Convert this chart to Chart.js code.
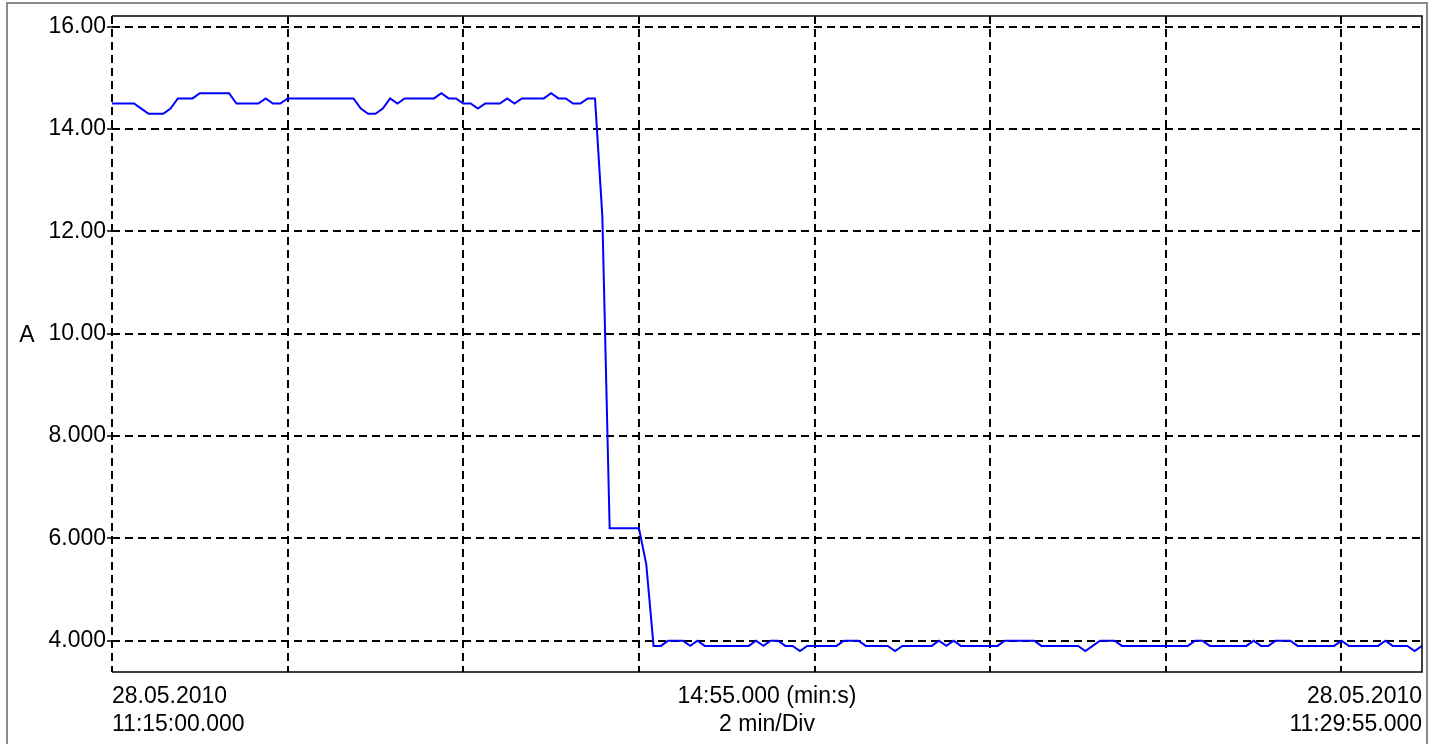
<!DOCTYPE html>
<html>
<head>
<meta charset="utf-8">
<script src="https://cdn.jsdelivr.net/npm/chart.js@4/dist/chart.umd.min.js"></script>
<style>
    body { margin: 0; background: #fff; }
    #wrap { width: 1441px; height: 744px; position: relative; }
</style>
</head>
<body>
<div id="wrap"><canvas id="myChart"></canvas></div>
<script>
// Current in A, one sample every 5 s from 11:15:00
var current = [
    14.5, 14.5, 14.5, 14.5, 14.4, 14.3, 14.3, 14.3, 14.4, 14.6,
    14.6, 14.6, 14.7, 14.7, 14.7, 14.7, 14.7, 14.5, 14.5, 14.5,
    14.5, 14.6, 14.5, 14.5, 14.6, 14.6, 14.6, 14.6, 14.6, 14.6,
    14.6, 14.6, 14.6, 14.6, 14.4, 14.3, 14.3, 14.4, 14.6, 14.5,
    14.6, 14.6, 14.6, 14.6, 14.6, 14.7, 14.6, 14.6, 14.5, 14.5,
    14.4, 14.5, 14.5, 14.5, 14.6, 14.5, 14.6, 14.6, 14.6, 14.6,
    14.7, 14.6, 14.6, 14.5, 14.5, 14.6, 14.6, 12.3, 6.2, 6.2,
    6.2, 6.2, 6.2, 5.5, 3.9, 3.9, 4.0, 4.0, 4.0, 3.9,
    4.0, 3.9, 3.9, 3.9, 3.9, 3.9, 3.9, 3.9, 4.0, 3.9,
    4.0, 4.0, 3.9, 3.9, 3.8, 3.9, 3.9, 3.9, 3.9, 3.9,
    4.0, 4.0, 4.0, 3.9, 3.9, 3.9, 3.9, 3.8, 3.9, 3.9,
    3.9, 3.9, 3.9, 4.0, 3.9, 4.0, 3.9, 3.9, 3.9, 3.9,
    3.9, 3.9, 4.0, 4.0, 4.0, 4.0, 4.0, 3.9, 3.9, 3.9,
    3.9, 3.9, 3.9, 3.8, 3.9, 4.0, 4.0, 4.0, 3.9, 3.9,
    3.9, 3.9, 3.9, 3.9, 3.9, 3.9, 3.9, 3.9, 4.0, 4.0,
    3.9, 3.9, 3.9, 3.9, 3.9, 3.9, 4.0, 3.9, 3.9, 4.0,
    4.0, 4.0, 3.9, 3.9, 3.9, 3.9, 3.9, 3.9, 4.0, 3.9,
    3.9, 3.9, 3.9, 3.9, 4.0, 3.9, 3.9, 3.9, 3.8, 3.9
];
var sampleSec = 5;
var samplesPerDiv = 24; // 2 min/Div

var yTicks = [4, 6, 8, 10, 12, 14, 16];
var yTickLabels = ["4.000", "6.000", "8.000", "10.00", "12.00", "14.00", "16.00"];
var yMin = 3.39, yMax = 16.21;
var yUnit = "A";

var bottomLabels = [
    ["28.05.2010", "11:15:00.000"],
    ["14:55.000 (min:s)", "2 min/Div"],
    ["28.05.2010", "11:29:55.000"]
];

var seconds = current.map(function (v, i) { return i * sampleSec; });

var FONT = "'Liberation Sans', Arial, sans-serif";
var FSIZE = 23;

// frame round the plot, outer gray frame and the unit label
var framePlugin = {
    id: 'frame',
    afterDraw: function (chart) {
        var c = chart.ctx, a = chart.chartArea;
        c.save();
        c.strokeStyle = '#8a8a8a';
        c.lineWidth = 2;
        c.strokeRect(7, 3, 1420, 760);
        c.strokeStyle = '#000';
        c.lineWidth = 1.5;
        c.beginPath();
        c.moveTo(a.left, a.top);
        c.lineTo(a.right, a.top);
        c.lineTo(a.right, a.bottom);
        c.lineTo(a.left, a.bottom);
        c.stroke();
        c.fillStyle = '#000';
        c.font = FSIZE + 'px ' + FONT;
        c.textAlign = 'center';
        c.textBaseline = 'middle';
        c.fillText(yUnit, 27, chart.scales.y.getPixelForValue(10) + 2);
        c.restore();
    }
};

var ctx = document.getElementById("myChart");
var myChart = new Chart(ctx,
{
    type: 'line',
    data:
    {
        labels: seconds,
        datasets:
        [
            {
                data: current,
                borderColor: "#0000ff",
                borderWidth: 2,
                pointRadius: 0,
                tension: 0,
                fill: false
            }
        ]
    },
    plugins: [framePlugin],
    options:
    {
        responsive: true,
        maintainAspectRatio: false,
        animation: false,
        layout: { padding: { left: 0, right: 19, top: 16, bottom: 0 } },
        plugins: {
            legend: { display: false },
            tooltip: { enabled: false }
        },
        scales:
        {
            x: {
                type: 'category',
                offset: false,
                border: { display: false },
                grid: {
                    drawTicks: false,
                    lineWidth: 2,
                    color: function (c) { return c.index % samplesPerDiv === 0 ? '#000' : 'rgba(0,0,0,0)'; }
                },
                ticks: { display: false },
                afterFit: function (s) { s.height = 0; }
            },
            x2: {
                type: 'linear',
                position: 'bottom',
                min: 0,
                max: 1,
                border: { display: false },
                grid: { display: false },
                afterBuildTicks: function (s) {
                    s.ticks = [{ value: 0 }, { value: 0.5 }, { value: 1 }];
                },
                ticks: {
                    autoSkip: false,
                    maxRotation: 0,
                    align: 'inner',
                    padding: 3,
                    color: '#000',
                    font: { family: FONT, size: FSIZE, lineHeight: 1.2 },
                    callback: function (v, i) { return bottomLabels[i]; }
                },
                afterFit: function (s) { s.height = 72; }
            },
            y: {
                min: yMin,
                max: yMax,
                border: { display: false },
                afterBuildTicks: function (s) {
                    s.ticks = yTicks.map(function (v) { return { value: v }; });
                },
                grid: {
                    color: '#000',
                    lineWidth: 2,
                    tickLength: 5,
                    tickBorderDash: [],
                    tickWidth: 1.5
                },
                ticks: {
                    padding: 1,
                    color: '#000',
                    font: { family: FONT, size: FSIZE },
                    callback: function (v, i) { return yTickLabels[i]; }
                },
                afterFit: function (s) { s.width = 112; }
            }
        }
    }
});
// dashed grid like the recorder's screen
myChart.options.scales.x.grid.borderDash = [8, 5];
myChart.options.scales.y.grid.borderDash = [8, 5];
myChart.options.scales.x.border.dash = [8, 5];
myChart.options.scales.y.border.dash = [8, 5];
myChart.update();
</script>
</body>
</html>
